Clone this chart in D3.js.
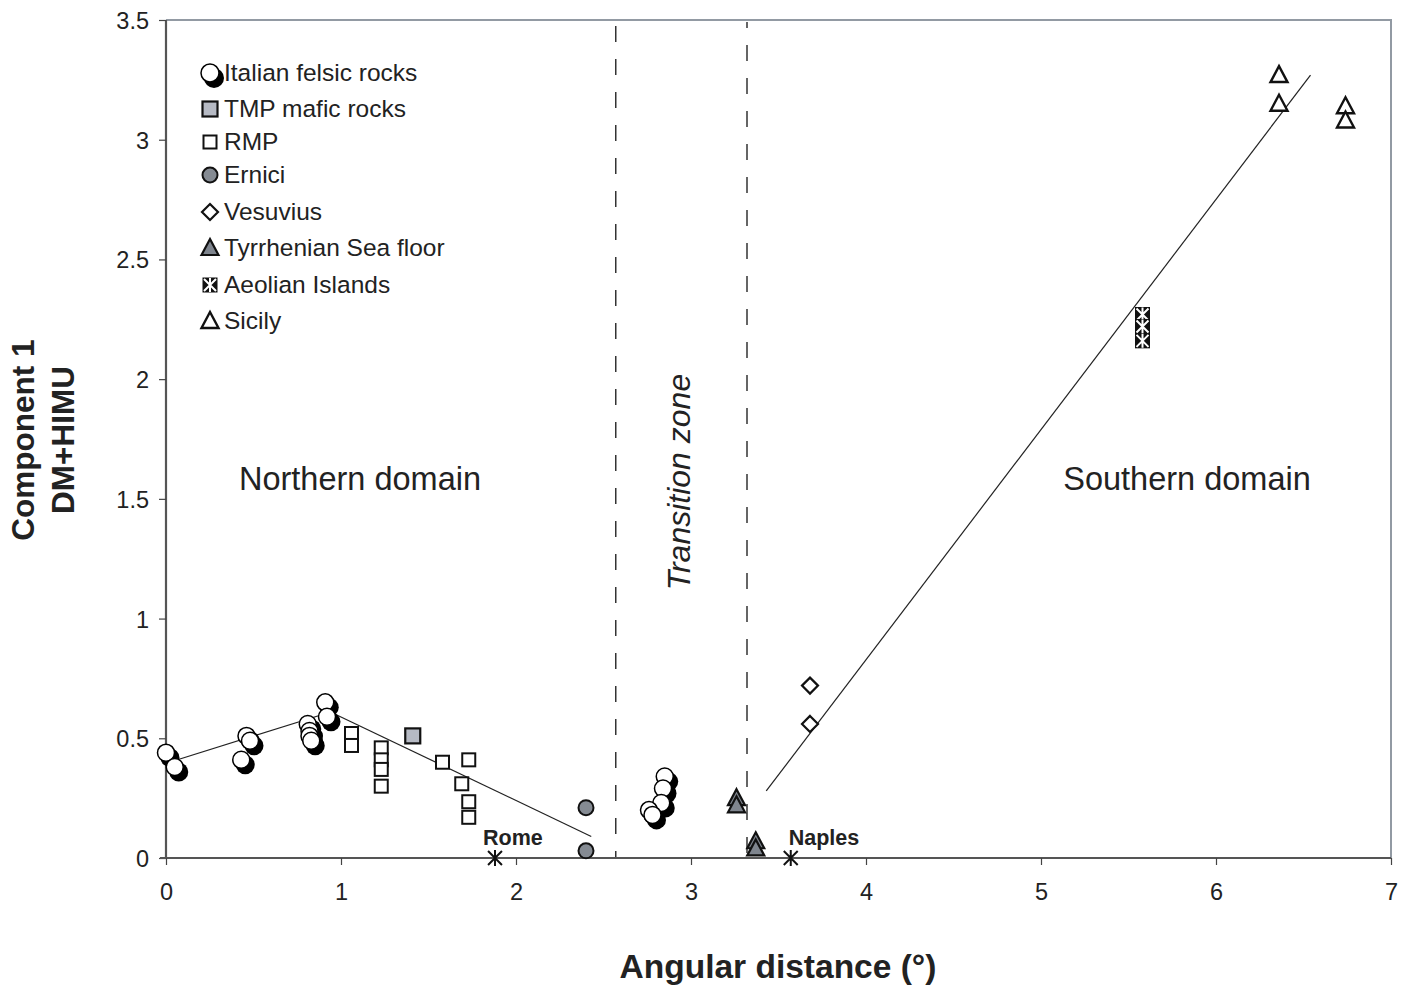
<!DOCTYPE html>
<html>
<head>
<meta charset="utf-8">
<script src="https://cdn.jsdelivr.net/npm/d3@7"></script>
<style>
  html, body { margin: 0; padding: 0; background: #fff; }
  svg { display: block; font-family: "Liberation Sans", Arial, sans-serif; }
</style>
</head>
<body>
<svg id="chart" width="1414" height="990"></svg>
<script>
// ---------- data ----------
const xTicks = [0, 1, 2, 3, 4, 5, 6, 7];
const yTicks = [0, 0.5, 1, 1.5, 2, 2.5, 3, 3.5];

const felsicX = [0.00, 0.05, 0.46, 0.48, 0.43, 0.81, 0.82, 0.82, 0.83, 0.91, 0.92, 2.85, 2.84, 2.83, 2.76, 2.78];
const felsicY = [0.44, 0.38, 0.51, 0.49, 0.41, 0.56, 0.53, 0.51, 0.49, 0.65, 0.59, 0.34, 0.29, 0.23, 0.20, 0.18];

const tmpX = [1.41];
const tmpY = [0.51];

const rmpX = [1.06, 1.06, 1.23, 1.23, 1.23, 1.23, 1.58, 1.73, 1.69, 1.73, 1.73];
const rmpY = [0.52, 0.47, 0.46, 0.41, 0.37, 0.30, 0.40, 0.41, 0.31, 0.235, 0.17];

const erniciX = [2.40, 2.40];
const erniciY = [0.21, 0.03];

const vesuviusX = [3.68, 3.68];
const vesuviusY = [0.72, 0.56];

const tyrrX = [3.26, 3.26, 3.37, 3.37];
const tyrrY = [0.25, 0.22, 0.07, 0.04];

const aeolianX = [5.58, 5.58, 5.58];
const aeolianY = [2.27, 2.22, 2.16];

const sicilyX = [6.36, 6.36, 6.74, 6.74];
const sicilyY = [3.27, 3.15, 3.14, 3.08];

const cityNames = ["Rome", "Naples"];
const cityX = [1.88, 3.57];
const cityY = [0, 0];

const trendNorth1X = [0.02, 0.94], trendNorth1Y = [0.40, 0.61];
const trendNorth2X = [0.94, 2.43], trendNorth2Y = [0.61, 0.09];
const trendSouthX = [3.43, 6.54], trendSouthY = [0.28, 3.27];

const boundaryX = [2.57, 3.32];

const legendLabels = ["Italian felsic rocks", "TMP mafic rocks", "RMP", "Ernici", "Vesuvius",
  "Tyrrhenian Sea floor", "Aeolian Islands", "Sicily"];

// ---------- layout ----------
const svg = d3.select("#chart");
const x = d3.scaleLinear().domain([0, 7]).range([166, 1391]);
const y = d3.scaleLinear().domain([0, 3.5]).range([858, 20]);

// frame (top/right)
svg.append("path")
  .attr("d", `M${x(0)},${y(3.5)}H${x(7)}V${y(0)}`)
  .attr("fill", "none").attr("stroke", "#929aa3").attr("stroke-width", 2);

// boundaries
boundaryX.forEach(b => {
  svg.append("line")
    .attr("x1", x(b)).attr("x2", x(b)).attr("y1", y(3.5) + 2).attr("y2", y(0))
    .attr("stroke", "#333").attr("stroke-width", 1.5)
    .attr("stroke-dasharray", "16,17").attr("stroke-dashoffset", b < 3 ? -4 : 10);
});

// axes
const yAxis = d3.axisLeft(y).tickValues(yTicks).tickSize(7).tickPadding(10)
  .tickFormat(d => String(d));
const xAxis = d3.axisBottom(x).tickValues(xTicks).tickSize(7).tickPadding(18)
  .tickFormat(d => String(d));

const gy = svg.append("g").attr("transform", `translate(${x(0)},0)`).call(yAxis);
const gx = svg.append("g").attr("transform", `translate(0,${y(0)})`).call(xAxis);
[gx, gy].forEach(g => {
  g.select(".domain").attr("stroke", "#555").attr("stroke-width", 2.2);
  g.selectAll(".tick line").attr("stroke", "#444").attr("stroke-width", 1.2);
  g.selectAll(".tick text").attr("font-size", 23.5).attr("fill", "#222")
    .attr("font-family", "Liberation Sans, Arial, sans-serif");
});
gy.select(".domain").attr("d", `M0,${y(3.5)}V${y(0)}`);
gy.selectAll(".tick text").attr("dy", "0.36em");
gx.select(".domain").attr("d", `M${x(0) - 6},0H${x(7)}`);

// trend lines
const line = d3.line().x(d => x(d[0])).y(d => y(d[1]));
[[trendNorth1X, trendNorth1Y], [trendNorth2X, trendNorth2Y], [trendSouthX, trendSouthY]].forEach(([xs, ys]) => {
  svg.append("path").datum(d3.zip(xs, ys)).attr("d", line)
    .attr("fill", "none").attr("stroke", "#222").attr("stroke-width", 1.2);
});

// ---------- symbols ----------
function drawSymbol(g, type, cx, cy) {
  switch (type) {
    case "felsic":
      g.append("circle").attr("cx", cx + 4).attr("cy", cy + 5).attr("r", 10).attr("fill", "#000");
      g.append("circle").attr("cx", cx).attr("cy", cy).attr("r", 9).attr("fill", "#fff")
        .attr("stroke", "#000").attr("stroke-width", 1.5);
      break;
    case "felsicShadow":
      g.append("circle").attr("cx", cx + 4).attr("cy", cy + 5).attr("r", 9.5).attr("fill", "#000");
      break;
    case "felsicWhite":
      g.append("circle").attr("cx", cx).attr("cy", cy).attr("r", 8.5).attr("fill", "#fff")
        .attr("stroke", "#000").attr("stroke-width", 1.5);
      break;
    case "tmp":
      g.append("rect").attr("x", cx - 7.5).attr("y", cy - 7.5).attr("width", 15).attr("height", 15)
        .attr("fill", "#b6bac4").attr("stroke", "#111").attr("stroke-width", 2.2);
      break;
    case "rmp":
      g.append("rect").attr("x", cx - 6.5).attr("y", cy - 6.5).attr("width", 13).attr("height", 13)
        .attr("fill", "#fff").attr("stroke", "#111").attr("stroke-width", 2);
      break;
    case "ernici":
      g.append("circle").attr("cx", cx).attr("cy", cy).attr("r", 7.5)
        .attr("fill", "#858b93").attr("stroke", "#111").attr("stroke-width", 2);
      break;
    case "vesuvius":
      g.append("path").attr("d", `M${cx},${cy - 8}L${cx + 8},${cy}L${cx},${cy + 8}L${cx - 8},${cy}Z`)
        .attr("fill", "#fff").attr("stroke", "#111").attr("stroke-width", 2.2);
      break;
    case "tyrr":
      g.append("path").attr("d", `M${cx},${cy - 9}L${cx + 8.5},${cy + 7}L${cx - 8.5},${cy + 7}Z`)
        .attr("fill", "#7f858e").attr("stroke", "#111").attr("stroke-width", 2.2);
      break;
    case "aeolian":
      g.append("rect").attr("x", cx - 7.5).attr("y", cy - 7.5).attr("width", 15).attr("height", 15)
        .attr("fill", "#111");
      g.append("path").attr("d", `M${cx - 6},${cy - 6}L${cx + 6},${cy + 6}M${cx + 6},${cy - 6}L${cx - 6},${cy + 6}M${cx},${cy - 7}V${cy + 7}`)
        .attr("stroke", "#fff").attr("stroke-width", 2);
      break;
    case "sicily":
      g.append("path").attr("d", `M${cx},${cy - 9}L${cx + 8.5},${cy + 7}L${cx - 8.5},${cy + 7}Z`)
        .attr("fill", "#fff").attr("stroke", "#111").attr("stroke-width", 2.4);
      break;
  }
}

const marks = svg.append("g");
// felsic: shadows first, then white circles
const felsic = d3.zip(felsicX, felsicY);
felsic.forEach(([a, b]) => drawSymbol(marks, "felsicShadow", x(a), y(b)));
felsic.forEach(([a, b]) => drawSymbol(marks, "felsicWhite", x(a), y(b)));

[[rmpX, rmpY, "rmp"], [tmpX, tmpY, "tmp"], [erniciX, erniciY, "ernici"],
 [vesuviusX, vesuviusY, "vesuvius"], [tyrrX, tyrrY, "tyrr"],
 [aeolianX, aeolianY, "aeolian"], [sicilyX, sicilyY, "sicily"]].forEach(([xs, ys, t]) => {
  d3.zip(xs, ys).forEach(([a, b]) => drawSymbol(marks, t, x(a), y(b)));
});

// cities
cityNames.forEach((name, i) => {
  const cx = x(cityX[i]), cy = y(cityY[i]);
  const r = 8;
  svg.append("path")
    .attr("d", `M${cx - r * 0.87},${cy - r * 0.87}L${cx + r * 0.87},${cy + r * 0.87}M${cx + r * 0.87},${cy - r * 0.87}L${cx - r * 0.87},${cy + r * 0.87}M${cx},${cy - r}V${cy + r}`)
    .attr("stroke", "#111").attr("stroke-width", 2);
  svg.append("text").attr("x", cx - 12 + (i === 1 ? 10 : 0)).attr("y", cy - 13)
    .attr("font-size", 21.5).attr("font-weight", "bold").attr("fill", "#222").text(name);
});

// legend
const legendTypes = ["felsic", "tmp", "rmp", "ernici", "vesuvius", "tyrr", "aeolian", "sicily"];
const legendRowY = [73, 109, 142, 175, 212, 248, 285, 321];
const lg = svg.append("g");
legendTypes.forEach((t, i) => {
  drawSymbol(lg, t, 210, legendRowY[i]);
  lg.append("text").attr("x", 224).attr("y", legendRowY[i] + 8)
    .attr("font-size", 24.5).attr("fill", "#222").text(legendLabels[i]);
});

// annotations
svg.append("text").attr("x", 360).attr("y", 490).attr("text-anchor", "middle")
  .attr("font-size", 32.5).attr("fill", "#222").text("Northern domain");
svg.append("text").attr("x", 1187).attr("y", 490).attr("text-anchor", "middle")
  .attr("font-size", 32.5).attr("fill", "#222").text("Southern domain");
svg.append("text").attr("transform", "translate(690,482) rotate(-90)").attr("text-anchor", "middle")
  .attr("font-size", 32).attr("font-style", "italic").attr("fill", "#222").text("Transition zone");

// axis titles
svg.append("text").attr("x", 778).attr("y", 978).attr("text-anchor", "middle")
  .attr("font-size", 33.5).attr("font-weight", "bold").attr("fill", "#222").text("Angular distance (°)");
svg.append("text").attr("transform", "translate(34,440) rotate(-90)").attr("text-anchor", "middle")
  .attr("font-size", 31.5).attr("font-weight", "bold").attr("fill", "#222").text("Component 1");
svg.append("text").attr("transform", "translate(74,440) rotate(-90)").attr("text-anchor", "middle")
  .attr("font-size", 31.5).attr("font-weight", "bold").attr("fill", "#222").text("DM+HIMU");
</script>
</body>
</html>
